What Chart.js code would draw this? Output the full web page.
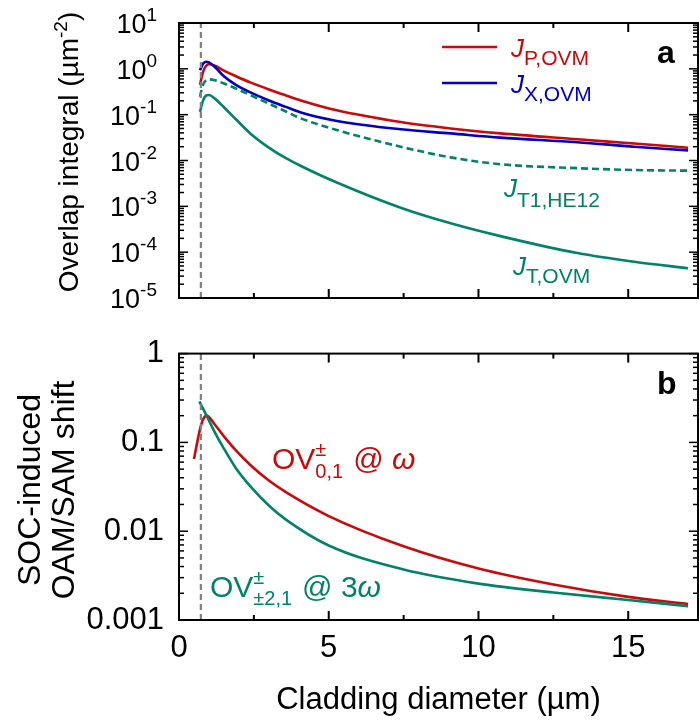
<!DOCTYPE html>
<html lang="en">
<head>
<meta charset="UTF-8">
<title>Overlap integral and SOC-induced shift vs cladding diameter</title>
<script src="https://cdn.jsdelivr.net/npm/chart.js"></script>
<style>
  body { margin: 0; background: #fff; }
  canvas { position: absolute; left: 0; }
</style>
</head>
<body>
<canvas id="topChart" width="699" height="320" style="top:0"></canvas>
<canvas id="bottomChart" width="699" height="402" style="top:320px"></canvas>
<script>
// ---- values ----
// panel a: overlap integrals (um^-2) vs cladding diameter (um)
const diameterA = [0.7, 0.8, 0.9, 1.0, 1.2, 1.5, 1.9, 2.4, 3.0, 3.57, 4.07, 5.23, 7.4, 9.07, 10.73, 13.3, 15.2, 17];
const jPOVM   = [0.447, 0.85, 1.15, 1.26, 1.17, 0.91, 0.69, 0.50, 0.355, 0.263, 0.204, 0.126, 0.069, 0.050, 0.039, 0.029, 0.0234, 0.019];
const jXOVM   = [0.933, 1.29, 1.43, 1.38, 1.10, 0.69, 0.447, 0.302, 0.204, 0.148, 0.112, 0.074, 0.048, 0.039, 0.0316, 0.0251, 0.020, 0.0166];
const jT1HE12 = [0.245, 0.447, 0.562, 0.589, 0.562, 0.479, 0.372, 0.263, 0.174, 0.117, 0.083, 0.047, 0.020, 0.0117, 0.0083, 0.0068, 0.0062, 0.006];
const jTOVM   = [0.115, 0.2, 0.26, 0.269, 0.224, 0.145, 0.0794, 0.038, 0.0191, 0.0112, 0.00759, 0.00339, 0.000933, 0.000427, 0.000224, 0.0000955, 0.0000617, 0.0000447];

// panel b: SOC-induced OAM/SAM shift
const diameterOmega = [0.5, 0.6, 0.7, 0.8, 0.92, 1.2, 1.5, 1.9, 2.4, 3.0, 3.57, 5, 7.5, 10, 12.5, 15, 17];
const shiftOmega    = [0.065, 0.097, 0.14, 0.18, 0.2, 0.158, 0.117, 0.0813, 0.055, 0.0372, 0.0275, 0.0148, 0.00676, 0.0038, 0.00251, 0.00182, 0.00151];
const diameter3Omega = [0.68, 0.92, 1.2, 1.5, 1.9, 2.4, 3.0, 3.57, 5, 7.5, 10, 12.5, 15, 17];
const shift3Omega    = [0.29, 0.2, 0.129, 0.0851, 0.0513, 0.0316, 0.0195, 0.0135, 0.0069, 0.0037, 0.00257, 0.00204, 0.00168, 0.00143];

// dashed marker (cladding = core size) and axes
const coreEdge = [0.73];
const xRange = [0, 17.33];
const xTicks = [0, 5, 10, 15];
const topTicks = [1e-5, 1e-4, 1e-3, 1e-2, 1e-1, 1, 10];
const bottomTicks = [0.001, 0.01, 0.1, 1];

const RED = '#c80a0a', BLUE = '#0000c0', GREEN = '#00826a', GRAY = '#808080';
const FONT = "'Liberation Sans', Arial, sans-serif";
Chart.defaults.font.family = FONT;
Chart.defaults.color = '#000';

const pts = (xs, ys) => xs.map((x, i) => ({ x: x, y: ys[i] }));
const vline = (x, range) => [{ x: x, y: range[0] }, { x: x, y: range[range.length - 1] }];

function font(size, style) { return (style || '') + ' ' + size + 'px ' + FONT; }

// text runs: {t, size, style, dy} or stacked {sup, sub, size, supDy, subDy}
function runsWidth(ctx, runs) {
  let w = 0;
  runs.forEach(r => {
    if (r.gap) { w += r.gap; return; }
    ctx.font = font(r.size, r.style);
    if (r.sup !== undefined) w += Math.max(ctx.measureText(r.sup).width, ctx.measureText(r.sub).width);
    else w += ctx.measureText(r.t).width;
  });
  return w;
}
function drawRuns(ctx, x, y, runs) {
  ctx.textBaseline = 'alphabetic';
  ctx.textAlign = 'left';
  runs.forEach(r => {
    if (r.gap) { x += r.gap; return; }
    ctx.font = font(r.size, r.style);
    if (r.sup !== undefined) {
      ctx.fillText(r.sup, x, y + r.supDy);
      ctx.fillText(r.sub, x, y + r.subDy);
      x += Math.max(ctx.measureText(r.sup).width, ctx.measureText(r.sub).width);
    } else {
      ctx.fillText(r.t, x, y + (r.dy || 0));
      x += ctx.measureText(r.t).width;
    }
  });
}

// frame with inward ticks on all four sides
function drawFrame(chart, decades) {
  const ctx = chart.ctx;
  const a = chart.chartArea;
  const xs = chart.scales.x, ys = chart.scales.y;
  ctx.save();
  ctx.strokeStyle = '#000';
  ctx.lineWidth = 2;
  ctx.strokeRect(a.left, a.top, a.right - a.left, a.bottom - a.top);
  const seg = (x1, y1, x2, y2) => { ctx.beginPath(); ctx.moveTo(x1, y1); ctx.lineTo(x2, y2); ctx.stroke(); };
  const xt = (v, len) => {
    const px = xs.getPixelForValue(v);
    seg(px, a.bottom, px, a.bottom - len);
    seg(px, a.top, px, a.top + len);
  };
  const yt = (v, len) => {
    const py = ys.getPixelForValue(v);
    seg(a.left, py, a.left + len, py);
    seg(a.right, py, a.right - len, py);
  };
  for (let i = 0; i < xTicks.length; i++) {
    xt(xTicks[i], 9);
    if (xTicks[i] + 2.5 < xRange[1]) xt(xTicks[i] + 2.5, 5);
  }
  ctx.lineWidth = 1.5;
  for (let i = 0; i < decades.length; i++) {
    yt(decades[i], 9);
    if (i < decades.length - 1) for (let k = 2; k <= 9; k++) yt(decades[i] * k, 5);
  }
  ctx.restore();
}

// labels, legend samples and rotated axis titles
function drawNotes(chart, opts) {
  const ctx = chart.ctx;
  ctx.save();
  (opts.samples || []).forEach(s => {
    ctx.strokeStyle = s.color; ctx.lineWidth = 2.5;
    ctx.beginPath(); ctx.moveTo(s.x1, s.y); ctx.lineTo(s.x2, s.y); ctx.stroke();
  });
  (opts.items || []).forEach(n => { ctx.fillStyle = n.color || '#000'; drawRuns(ctx, n.x, n.y, n.runs); });
  (opts.titles || []).forEach(t => {
    ctx.fillStyle = '#000';
    const w = runsWidth(ctx, t.runs);
    ctx.save();
    ctx.translate(t.x, t.y);
    ctx.rotate(-Math.PI / 2);
    drawRuns(ctx, -w / 2, 0, t.runs);
    ctx.restore();
  });
  if (opts.powerLabels) {
    const y = chart.scales.y;
    ctx.fillStyle = '#000';
    opts.powerLabels.forEach(v => {
      const e = String(Math.round(Math.log10(v)));
      const py = y.getPixelForValue(v);
      ctx.font = font(19);
      const ew = ctx.measureText(e).width;
      ctx.textBaseline = 'alphabetic';
      ctx.textAlign = 'left';
      ctx.fillText(e, opts.labelRight - ew, py - 2);
      ctx.font = font(27);
      ctx.textAlign = 'right';
      ctx.fillText('10', opts.labelRight - ew, py + 10);
    });
  }
  ctx.restore();
}

const lineSet = (data, color, extra) => Object.assign({
  data: data, borderColor: color, borderWidth: 2.6, pointRadius: 0,
  fill: false, cubicInterpolationMode: 'monotone'
}, extra || {});
const markerSet = (range) => ({
  data: vline(coreEdge[0], range), borderColor: GRAY, borderWidth: 2.2,
  borderDash: [6, 4], pointRadius: 0, tension: 0, fill: false
});

// ---- panel a ----
const notesA = {
  powerLabels: topTicks, labelRight: 157,
  samples: [{ x1: 442, x2: 497, y: 47, color: RED }, { x1: 442, x2: 497, y: 83, color: BLUE }],
  items: [
    { x: 511, y: 57, color: RED, runs: [{ t: 'J', size: 26, style: 'italic' }, { t: 'P,OVM', size: 21, dy: 8 }] },
    { x: 511, y: 93, color: BLUE, runs: [{ t: 'J', size: 26, style: 'italic' }, { t: 'X,OVM', size: 21, dy: 8 }] },
    { x: 504, y: 197, color: GREEN, runs: [{ t: 'J', size: 26, style: 'italic' }, { t: 'T1,HE12', size: 21, dy: 10 }] },
    { x: 513, y: 275, color: GREEN, runs: [{ t: 'J', size: 26, style: 'italic' }, { t: 'T,OVM', size: 21, dy: 8 }] },
    { x: 657, y: 63, runs: [{ t: 'a', size: 32, style: 'bold' }] }
  ],
  titles: [
    { x: 78, y: 152, runs: [{ t: 'Overlap integral (µm', size: 28 }, { t: '-2', size: 19, dy: -11 }, { t: ')', size: 28 }] }
  ]
};
new Chart(document.getElementById('topChart'), {
  type: 'line',
  data: {
    datasets: [
      markerSet([topTicks[0], topTicks[topTicks.length - 1]]),
      lineSet(pts(diameterA, jTOVM), GREEN),
      lineSet(pts(diameterA, jT1HE12), GREEN, { borderDash: [7, 4] }),
      lineSet(pts(diameterA, jXOVM), BLUE),
      lineSet(pts(diameterA, jPOVM), RED)
    ]
  },
  options: {
    responsive: false, animation: false, devicePixelRatio: 1,
    layout: { padding: { left: 179, top: 23, right: 1, bottom: 22 } },
    scales: {
      x: { type: 'linear', min: xRange[0], max: xRange[1], display: false },
      y: { type: 'logarithmic', min: topTicks[0], max: topTicks[topTicks.length - 1], display: false }
    },
    plugins: { legend: { display: false }, tooltip: { enabled: false } }
  },
  plugins: [{ id: 'decorA', afterDraw: c => { drawFrame(c, topTicks); drawNotes(c, notesA); } }]
});

// ---- panel b ----
const notesB = {
  items: [
    { x: 272, y: 149, color: RED, runs: [
      { t: 'OV', size: 30 }, { sup: '±', sub: '0,1', size: 20, supDy: -13, subDy: 9 },
      { gap: 10 }, { t: '@ ', size: 30 }, { t: 'ω', size: 30, style: 'italic' }] },
    { x: 210, y: 277, color: GREEN, runs: [
      { t: 'OV', size: 30 }, { sup: '±', sub: '±2,1', size: 20, supDy: -13, subDy: 8 },
      { gap: 10 }, { t: '@ 3', size: 30 }, { t: 'ω', size: 30, style: 'italic' }] },
    { x: 657, y: 74, runs: [{ t: 'b', size: 32, style: 'bold' }] }
  ],
  titles: [
    { x: 40, y: 170, runs: [{ t: 'SOC-induced', size: 32 }] },
    { x: 74, y: 170, runs: [{ t: 'OAM/SAM shift', size: 32 }] }
  ]
};
new Chart(document.getElementById('bottomChart'), {
  type: 'line',
  data: {
    datasets: [
      markerSet([bottomTicks[0], bottomTicks[bottomTicks.length - 1]]),
      lineSet(pts(diameter3Omega, shift3Omega), GREEN),
      lineSet(pts(diameterOmega, shiftOmega), RED)
    ]
  },
  options: {
    responsive: false, animation: false, devicePixelRatio: 1,
    layout: { padding: { left: 0, top: 25, right: 1, bottom: 0 } },
    scales: {
      x: {
        type: 'linear', min: xRange[0], max: xRange[1],
        afterFit: s => { s.height = 102; },
        grid: { display: false, drawTicks: false }, border: { display: false },
        ticks: { stepSize: 5, includeBounds: false, autoSkip: false, maxRotation: 0, padding: 10, font: { size: 31 },
                 callback: v => xTicks.includes(v) ? String(v) : '' },
        title: { display: true, text: 'Cladding diameter (µm)', font: { size: 31 }, padding: { top: 0, bottom: 3 } }
      },
      y: {
        type: 'logarithmic', min: bottomTicks[0], max: bottomTicks[bottomTicks.length - 1],
        afterFit: s => { s.width = 179; },
        grid: { display: false, drawTicks: false }, border: { display: false },
        ticks: { autoSkip: false, padding: 15, font: { size: 31 },
                 callback: v => {
                   const l = Math.log10(v);
                   return Math.abs(l - Math.round(l)) < 1e-6 ? String(Number(v.toPrecision(1))) : '';
                 } }
      }
    },
    plugins: { legend: { display: false }, tooltip: { enabled: false } }
  },
  plugins: [{ id: 'decorB', afterDraw: c => { drawFrame(c, bottomTicks); drawNotes(c, notesB); } }]
});
</script>
</body>
</html>
